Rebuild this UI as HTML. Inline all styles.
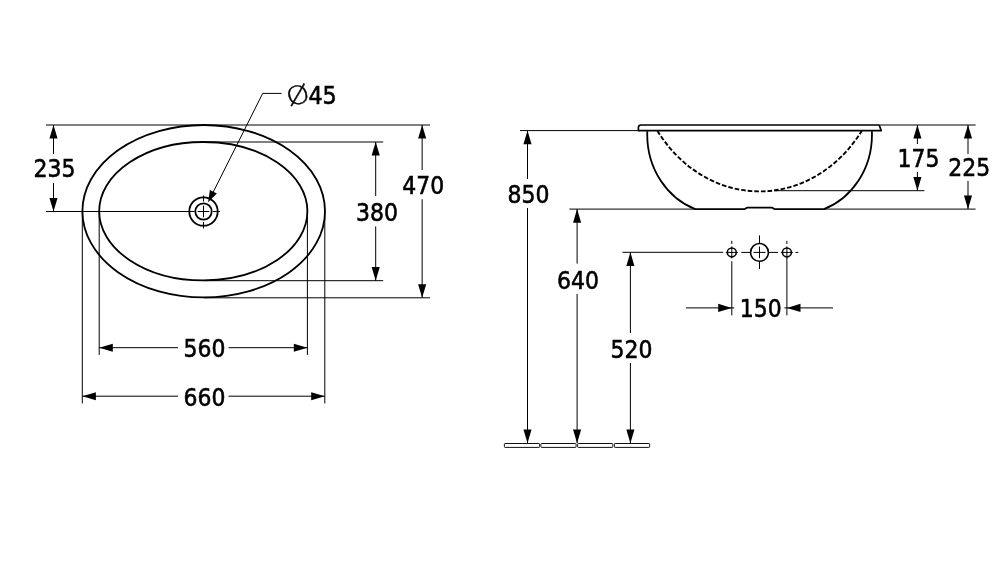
<!DOCTYPE html>
<html lang="en">
<head>
<meta charset="utf-8">
<title>Washbasin dimensions</title>
<style>
html,body{margin:0;padding:0;background:#fff;overflow:hidden;}
body{width:1000px;height:584px;overflow:hidden;}
svg{display:block;will-change:transform;}
svg text{font-family:"DejaVu Sans","Liberation Sans",sans-serif;fill:#000;}
</style>
</head>
<body>
<svg width="1000" height="584" viewBox="0 0 1000 584">
<line x1="46" y1="125" x2="430" y2="125" stroke="#000" stroke-width="1.0" />
<line x1="200" y1="142" x2="383.2" y2="142" stroke="#000" stroke-width="1.0" />
<line x1="46" y1="211.5" x2="194.5" y2="211.5" stroke="#000" stroke-width="1.0" />
<line x1="204" y1="280.7" x2="383.2" y2="280.7" stroke="#000" stroke-width="1.0" />
<line x1="204" y1="297.8" x2="430" y2="297.8" stroke="#000" stroke-width="1.0" />
<line x1="82.3" y1="211" x2="82.3" y2="403.5" stroke="#000" stroke-width="1.0" />
<line x1="99.2" y1="211" x2="99.2" y2="354.9" stroke="#000" stroke-width="1.0" />
<line x1="307.4" y1="211" x2="307.4" y2="354.9" stroke="#000" stroke-width="1.0" />
<line x1="324.8" y1="211" x2="324.8" y2="403.5" stroke="#000" stroke-width="1.0" />
<ellipse cx="203.7" cy="211.2" rx="121.3" ry="86.2" fill="none" stroke="#000" stroke-width="1.8"/>
<ellipse cx="203.3" cy="211.2" rx="104.1" ry="69.2" fill="none" stroke="#000" stroke-width="1.8"/>
<circle cx="203.5" cy="211.5" r="14.2" fill="none" stroke="#000" stroke-width="1.8"/>
<circle cx="203.5" cy="211.5" r="8.2" fill="none" stroke="#000" stroke-width="1.8"/>
<line x1="197.7" y1="211.5" x2="209.3" y2="211.5" stroke="#000" stroke-width="1.0" />
<line x1="203.5" y1="205.7" x2="203.5" y2="217.3" stroke="#000" stroke-width="1.0" />
<line x1="188.5" y1="211.5" x2="194.0" y2="211.5" stroke="#000" stroke-width="1.0" />
<line x1="213.0" y1="211.5" x2="220.0" y2="211.5" stroke="#000" stroke-width="1.0" />
<line x1="203.5" y1="195.5" x2="203.5" y2="201.5" stroke="#000" stroke-width="1.0" />
<line x1="203.5" y1="222.0" x2="203.5" y2="228.5" stroke="#000" stroke-width="1.0" />
<line x1="262.7" y1="93.4" x2="281.6" y2="93.4" stroke="#000" stroke-width="1.0" />
<line x1="262.7" y1="93.4" x2="212.468" y2="193.58800000000002" stroke="#000" stroke-width="1.0" />
<polygon points="208.10,202.30 209.90,190.00 216.88,193.50" fill="#000"/>
<text x="286.4" y="104" font-size="23.9" stroke="#000" stroke-width="0.6"><tspan font-family="DejaVu Sans Light,DejaVu Sans,sans-serif" font-size="25" stroke-width="0.35" rotate="-14" textLength="23.4" lengthAdjust="spacingAndGlyphs" dx="2.6" dy="2.1">Ø</tspan><tspan dx="-4" dy="-2.1" textLength="28.3" lengthAdjust="spacingAndGlyphs">45</tspan></text>
<line x1="53.5" y1="125" x2="53.5" y2="154" stroke="#000" stroke-width="1.0" />
<line x1="53.5" y1="183" x2="53.5" y2="211.5" stroke="#000" stroke-width="1.0" />
<polygon points="53.50,125.00 57.55,138.60 49.45,138.60" fill="#000"/>
<polygon points="53.50,211.50 49.45,197.90 57.55,197.90" fill="#000"/>
<text transform="translate(54.6,177) scale(0.92,1)" font-size="23.9" text-anchor="middle" stroke="#000" stroke-width="0.6" >235</text>
<line x1="375.7" y1="142" x2="375.7" y2="196" stroke="#000" stroke-width="1.0" />
<line x1="375.7" y1="226.4" x2="375.7" y2="280.7" stroke="#000" stroke-width="1.0" />
<polygon points="375.70,142.00 379.75,155.60 371.65,155.60" fill="#000"/>
<polygon points="375.70,280.70 371.65,267.10 379.75,267.10" fill="#000"/>
<text transform="translate(376.95,221) scale(0.92,1)" font-size="23.9" text-anchor="middle" stroke="#000" stroke-width="0.6" >380</text>
<line x1="422.15" y1="125" x2="422.15" y2="170" stroke="#000" stroke-width="1.0" />
<line x1="422.15" y1="199.2" x2="422.15" y2="297.8" stroke="#000" stroke-width="1.0" />
<polygon points="422.15,125.00 426.20,138.60 418.10,138.60" fill="#000"/>
<polygon points="422.15,297.80 418.10,284.20 426.20,284.20" fill="#000"/>
<text transform="translate(423.15,194) scale(0.92,1)" font-size="23.9" text-anchor="middle" stroke="#000" stroke-width="0.6" >470</text>
<line x1="99.2" y1="347.7" x2="178" y2="347.7" stroke="#000" stroke-width="1.0" />
<line x1="228.5" y1="347.7" x2="307.4" y2="347.7" stroke="#000" stroke-width="1.0" />
<polygon points="99.20,347.70 112.80,343.65 112.80,351.75" fill="#000"/>
<polygon points="307.40,347.70 293.80,351.75 293.80,343.65" fill="#000"/>
<text transform="translate(204.5,357) scale(0.92,1)" font-size="23.9" text-anchor="middle" stroke="#000" stroke-width="0.6" >560</text>
<line x1="82.3" y1="396.2" x2="178" y2="396.2" stroke="#000" stroke-width="1.0" />
<line x1="228.5" y1="396.2" x2="324.8" y2="396.2" stroke="#000" stroke-width="1.0" />
<polygon points="82.30,396.20 95.90,392.15 95.90,400.25" fill="#000"/>
<polygon points="324.80,396.20 311.20,400.25 311.20,392.15" fill="#000"/>
<text transform="translate(204.4,406) scale(0.92,1)" font-size="23.9" text-anchor="middle" stroke="#000" stroke-width="0.6" >660</text>
<line x1="520" y1="130.6" x2="640" y2="130.6" stroke="#000" stroke-width="1.0" />
<line x1="569.4" y1="209.1" x2="696" y2="209.1" stroke="#000" stroke-width="1.0" />
<line x1="880" y1="125" x2="975.6" y2="125" stroke="#000" stroke-width="1.0" />
<line x1="776" y1="190.7" x2="924.4" y2="190.7" stroke="#000" stroke-width="1.0" />
<line x1="824" y1="209.1" x2="975.6" y2="209.1" stroke="#000" stroke-width="1.0" />
<line x1="622.4" y1="252.3" x2="723.2" y2="252.3" stroke="#000" stroke-width="1.0" />
<path d="M638.4,130.6 L638.4,127.6 Q638.4,125 641.2,125 L879.2,125 L881.2,130.6 Z" fill="#fff" stroke="#000" stroke-width="1.7" stroke-linejoin="round"/>
<path d="M647.3,131.2 C645.9,169.7 668.7,198.8 695.2,209.1 L744.8,209.1 L747,207.7 L772.2,207.7 L774.4,209.1 L824.0,209.1 C850.5,198.8 873.3,169.7 871.9,131.2" fill="none" stroke="#000" stroke-width="1.8" stroke-linejoin="round"/>
<path d="M657.4,130.8 A125,142.9 0 0 0 861.8,130.8" fill="none" stroke="#000" stroke-width="1.9" stroke-dasharray="4.6,2.0"/>
<line x1="527.5" y1="130.6" x2="527.5" y2="179" stroke="#000" stroke-width="1.0" />
<line x1="527.5" y1="208" x2="527.5" y2="443" stroke="#000" stroke-width="1.0" />
<polygon points="527.50,130.60 531.55,144.20 523.45,144.20" fill="#000"/>
<polygon points="527.50,443.20 523.45,429.60 531.55,429.60" fill="#000"/>
<text transform="translate(528.45,203) scale(0.92,1)" font-size="23.9" text-anchor="middle" stroke="#000" stroke-width="0.6" >850</text>
<line x1="577.1" y1="209.1" x2="577.1" y2="263.6" stroke="#000" stroke-width="1.0" />
<line x1="577.1" y1="294" x2="577.1" y2="443" stroke="#000" stroke-width="1.0" />
<polygon points="577.10,209.10 581.15,222.70 573.05,222.70" fill="#000"/>
<polygon points="577.10,443.20 573.05,429.60 581.15,429.60" fill="#000"/>
<text transform="translate(577.95,289) scale(0.92,1)" font-size="23.9" text-anchor="middle" stroke="#000" stroke-width="0.6" >640</text>
<line x1="630.4" y1="252.3" x2="630.4" y2="333" stroke="#000" stroke-width="1.0" />
<line x1="630.4" y1="363" x2="630.4" y2="443" stroke="#000" stroke-width="1.0" />
<polygon points="630.40,252.30 634.45,265.90 626.35,265.90" fill="#000"/>
<polygon points="630.40,443.20 626.35,429.60 634.45,429.60" fill="#000"/>
<text transform="translate(631.45,358) scale(0.92,1)" font-size="23.9" text-anchor="middle" stroke="#000" stroke-width="0.6" >520</text>
<rect x="504.4" y="443.5" width="35.2" height="3.9" rx="0.7" ry="0.7" fill="#fff" stroke="#111" stroke-width="1"/>
<rect x="540.9" y="443.5" width="35.2" height="3.9" rx="0.7" ry="0.7" fill="#fff" stroke="#111" stroke-width="1"/>
<rect x="577.6" y="443.5" width="35.2" height="3.9" rx="0.7" ry="0.7" fill="#fff" stroke="#111" stroke-width="1"/>
<rect x="614.4" y="443.5" width="35.2" height="3.9" rx="0.7" ry="0.7" fill="#fff" stroke="#111" stroke-width="1"/>
<line x1="917.4" y1="125" x2="917.4" y2="144" stroke="#000" stroke-width="1.0" />
<line x1="917.4" y1="172" x2="917.4" y2="190.7" stroke="#000" stroke-width="1.0" />
<polygon points="917.40,125.00 921.45,138.60 913.35,138.60" fill="#000"/>
<polygon points="917.40,190.70 913.35,177.10 921.45,177.10" fill="#000"/>
<text transform="translate(918.5,167) scale(0.92,1)" font-size="23.9" text-anchor="middle" stroke="#000" stroke-width="0.6" >175</text>
<line x1="968" y1="125" x2="968" y2="154" stroke="#000" stroke-width="1.0" />
<line x1="968" y1="181" x2="968" y2="209.1" stroke="#000" stroke-width="1.0" />
<polygon points="968.00,125.00 972.05,138.60 963.95,138.60" fill="#000"/>
<polygon points="968.00,209.10 963.95,195.50 972.05,195.50" fill="#000"/>
<text transform="translate(969.2,176) scale(0.92,1)" font-size="23.9" text-anchor="middle" stroke="#000" stroke-width="0.6" >225</text>
<circle cx="731.8" cy="252.4" r="4.5" fill="none" stroke="#000" stroke-width="1.5"/>
<circle cx="786.9" cy="252.4" r="4.5" fill="none" stroke="#000" stroke-width="1.5"/>
<circle cx="759.5" cy="252.4" r="8.9" fill="none" stroke="#000" stroke-width="1.6"/>
<line x1="725.8" y1="252.4" x2="737.8" y2="252.4" stroke="#000" stroke-width="1.0" />
<line x1="780.9" y1="252.4" x2="792.9" y2="252.4" stroke="#000" stroke-width="1.0" />
<line x1="741.3" y1="252.4" x2="750.4" y2="252.4" stroke="#000" stroke-width="1.0" />
<line x1="768.6" y1="252.4" x2="778" y2="252.4" stroke="#000" stroke-width="1.0" />
<line x1="753.5" y1="252.4" x2="765.5" y2="252.4" stroke="#000" stroke-width="1.0" />
<line x1="759.5" y1="246.6" x2="759.5" y2="258.2" stroke="#000" stroke-width="1.0" />
<line x1="759.5" y1="235.4" x2="759.5" y2="243.3" stroke="#000" stroke-width="1.0" />
<line x1="759.5" y1="261.5" x2="759.5" y2="269" stroke="#000" stroke-width="1.0" />
<line x1="795.5" y1="252.4" x2="798.4" y2="252.4" stroke="#000" stroke-width="1.0" />
<line x1="731.8" y1="240.8" x2="731.8" y2="244" stroke="#000" stroke-width="1.0" />
<line x1="731.8" y1="246.4" x2="731.8" y2="258.4" stroke="#000" stroke-width="1.0" />
<line x1="786.9" y1="240.8" x2="786.9" y2="244" stroke="#000" stroke-width="1.0" />
<line x1="786.9" y1="246.4" x2="786.9" y2="258.4" stroke="#000" stroke-width="1.0" />
<line x1="731.8" y1="261.2" x2="731.8" y2="315.4" stroke="#000" stroke-width="1.0" />
<line x1="786.9" y1="258" x2="786.9" y2="315.4" stroke="#000" stroke-width="1.0" />
<line x1="686" y1="307.9" x2="734.3" y2="307.9" stroke="#000" stroke-width="1.0" />
<line x1="784.4" y1="307.9" x2="833" y2="307.9" stroke="#000" stroke-width="1.0" />
<polygon points="731.80,307.90 718.20,311.95 718.20,303.85" fill="#000"/>
<polygon points="786.90,307.90 800.50,303.85 800.50,311.95" fill="#000"/>
<text transform="translate(760.65,317) scale(0.92,1)" font-size="23.9" text-anchor="middle" stroke="#000" stroke-width="0.6" >150</text>
</svg>
</body>
</html>
